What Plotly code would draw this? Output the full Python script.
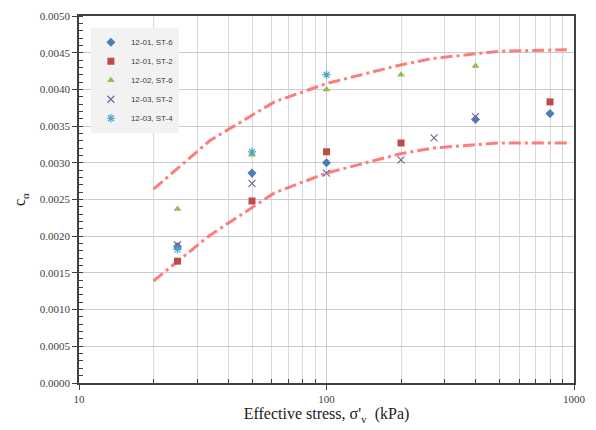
import plotly.graph_objects as go

# Effective stress (kPa) and C_alpha values per test
x_1201_st6 = [25, 50, 100, 400, 800]
y_1201_st6 = [0.00186, 0.00286, 0.00300, 0.00359, 0.00367]

x_1201_st2 = [25, 50, 100, 200, 800]
y_1201_st2 = [0.00166, 0.00248, 0.00315, 0.00327, 0.00383]

x_1202_st6 = [25, 50, 100, 200, 400]
y_1202_st6 = [0.00237, 0.00311, 0.00400, 0.00420, 0.00432]

x_1203_st2 = [25, 50, 100, 200, 272, 400]
y_1203_st2 = [0.00188, 0.00272, 0.00286, 0.00304, 0.00334, 0.00363]

x_1203_st4 = [25, 50, 100]
y_1203_st4 = [0.00182, 0.00315, 0.00420]

# Bounding envelope curves
x_upper = [20, 33.7, 61.6, 100, 197, 267, 500, 935]
y_upper = [0.00264, 0.00330, 0.00383, 0.00408, 0.00433, 0.00442, 0.00452, 0.00454]
x_lower = [20, 33.7, 61.6, 100, 197, 267, 500, 935]
y_lower = [0.00139, 0.00201, 0.00259, 0.00286, 0.00312, 0.00320, 0.00327, 0.00327]

fig = go.Figure()

line_style = dict(color="rgba(255,110,110,0.9)", width=3, dash="12px,4px,3px,4px")
fig.add_trace(go.Scatter(x=x_upper, y=y_upper, mode="lines", line=line_style, showlegend=False, hoverinfo="skip"))
fig.add_trace(go.Scatter(x=x_lower, y=y_lower, mode="lines", line=line_style, showlegend=False, hoverinfo="skip"))

series = [
    ("12-01, ST-6", x_1201_st6, y_1201_st6, "diamond", "#4a7ebb", 7),
    ("12-01, ST-2", x_1201_st2, y_1201_st2, "square", "#be4b48", 7),
    ("12-02, ST-6", x_1202_st6, y_1202_st6, "triangle-up", "#98b954", 7),
    ("12-03, ST-2", x_1203_st2, y_1203_st2, "x-thin", "#7d60a0", 7),
    ("12-03, ST-4", x_1203_st4, y_1203_st4, "asterisk", "#46aac5", 7),
]
for name, xs, ys, sym, col, sz in series:
    mk = dict(symbol=sym, color=col, size=sz)
    if "thin" in sym or sym == "asterisk":
        mk["line"] = dict(color=col, width=1.2)
    fig.add_trace(go.Scatter(x=xs, y=ys, mode="markers", name=name, marker=mk))

axis_font = dict(family="Liberation Serif", size=11, color="#404040")
fig.update_layout(
    width=596, height=430,
    margin=dict(l=79, r=21, t=10, b=47),
    paper_bgcolor="white", plot_bgcolor="white",
    showlegend=True,
    legend=dict(
        x=0.024, y=0.968, xanchor="left", yanchor="top",
        bgcolor="#f2f2f2", borderwidth=0,
        font=dict(family="Liberation Sans", size=8, color="#404040"),
        itemwidth=30, tracegroupgap=0,
    ),
    xaxis=dict(
        type="log", range=[1, 3],
        tickvals=[10, 100, 1000], ticktext=["10", "100", "1000"],
        ticks="outside", ticklen=5, tickcolor="#404040",
        showgrid=True, gridcolor="#cccccc", gridwidth=1,
        minor=dict(tickvals=[20, 30, 40, 50, 60, 70, 80, 90, 200, 300, 400, 500, 600, 700, 800, 900],
                   ticks="inside", ticklen=4, tickcolor="#404040",
                   showgrid=True, gridcolor="#d9d9d9", gridwidth=1),
        showline=True, linecolor="#404040", linewidth=1.5, mirror=True,
        tickfont=axis_font,
        title=dict(text="Effective stress, σ'<sub>v</sub>  (kPa)",
                   font=dict(family="Liberation Serif", size=16, color="#202020"), standoff=4),
        zeroline=False,
    ),
    yaxis=dict(
        range=[0, 0.005], dtick=0.0005, tickformat=".4f",
        ticks="outside", ticklen=5, tickcolor="#404040",
        showgrid=True, gridcolor="#cccccc", gridwidth=1,
        minor=dict(dtick=0.0001, ticks="inside", ticklen=4, tickcolor="#404040", showgrid=False),
        showline=True, linecolor="#404040", linewidth=1.5, mirror=True,
        tickfont=axis_font,
        title=dict(text="c<sub>α</sub>", font=dict(family="Liberation Serif", size=16, color="#202020"), standoff=10),
        zeroline=False,
    ),
)

fig.write_html("out.html")
